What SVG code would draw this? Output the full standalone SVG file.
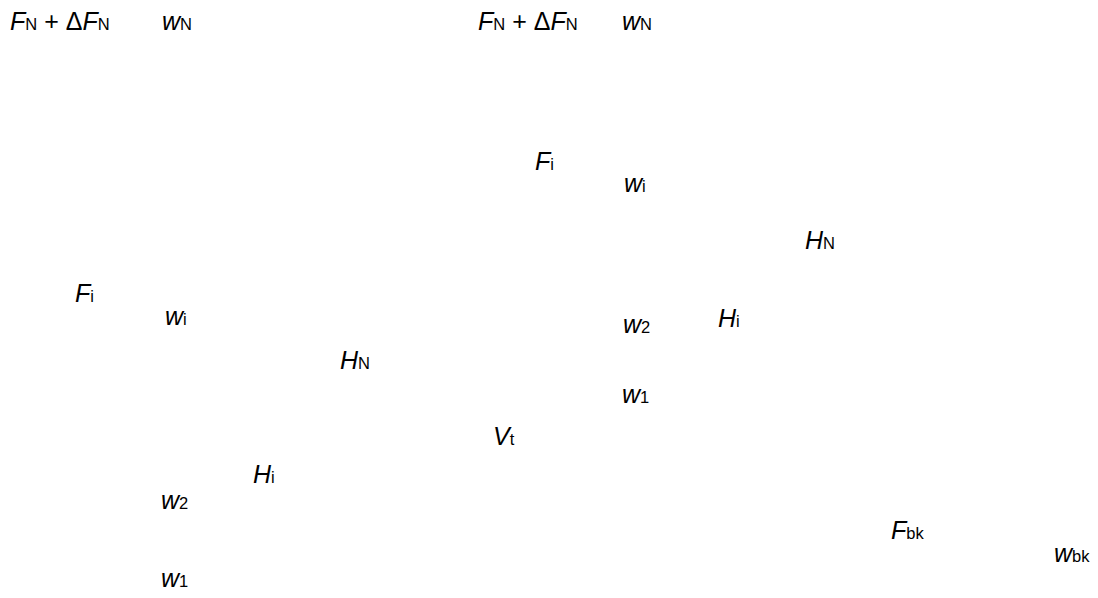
<svg xmlns="http://www.w3.org/2000/svg" width="1098" height="598" viewBox="0 0 1098 598">
<style>
text{font-family:"Liberation Sans",Arial,sans-serif;font-size:25px;fill:#000}
.v{font-style:italic}
.s{font-size:16.5px;font-style:normal}
.n{font-style:normal}
</style>
<rect width="1098" height="598" fill="#fff"/>
<g id="left">
<text x="10" y="30"><tspan class="v">F</tspan><tspan class="s">N</tspan><tspan class="n"> + Δ</tspan><tspan class="v">F</tspan><tspan class="s">N</tspan></text>
<text x="162" y="30"><tspan class="v">w</tspan><tspan class="s">N</tspan></text>
<text x="75" y="302"><tspan class="v">F</tspan><tspan class="s">i</tspan></text>
<text x="165" y="325"><tspan class="v">w</tspan><tspan class="s">i</tspan></text>
<text x="340" y="369"><tspan class="v">H</tspan><tspan class="s">N</tspan></text>
<text x="253" y="483"><tspan class="v">H</tspan><tspan class="s">i</tspan></text>
<text x="161" y="509"><tspan class="v">w</tspan><tspan class="s">2</tspan></text>
<text x="161" y="587"><tspan class="v">w</tspan><tspan class="s">1</tspan></text>
</g>
<g id="right">
<text x="478" y="30"><tspan class="v">F</tspan><tspan class="s">N</tspan><tspan class="n"> + Δ</tspan><tspan class="v">F</tspan><tspan class="s">N</tspan></text>
<text x="622" y="30"><tspan class="v">w</tspan><tspan class="s">N</tspan></text>
<text x="535" y="170"><tspan class="v">F</tspan><tspan class="s">i</tspan></text>
<text x="624" y="192"><tspan class="v">w</tspan><tspan class="s">i</tspan></text>
<text x="805" y="249"><tspan class="v">H</tspan><tspan class="s">N</tspan></text>
<text x="623" y="333"><tspan class="v">w</tspan><tspan class="s">2</tspan></text>
<text x="718" y="327"><tspan class="v">H</tspan><tspan class="s">i</tspan></text>
<text x="622" y="403"><tspan class="v">w</tspan><tspan class="s">1</tspan></text>
<text x="493" y="445"><tspan class="v">V</tspan><tspan class="s">t</tspan></text>
<text x="891" y="539"><tspan class="v">F</tspan><tspan class="s">bk</tspan></text>
<text x="1054" y="562"><tspan class="v">w</tspan><tspan class="s">bk</tspan></text>
</g>
</svg>
